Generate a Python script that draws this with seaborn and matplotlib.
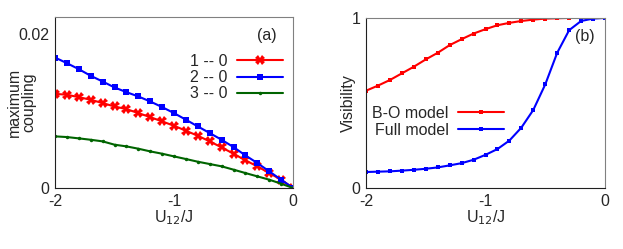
import matplotlib
matplotlib.use("Agg")
import matplotlib.pyplot as plt
import numpy as np
import pandas as pd
import seaborn as sns

# data
u12 = [-2.0, -1.9, -1.8, -1.7, -1.6, -1.5, -1.4, -1.3, -1.2, -1.1, -1.0,
       -0.9, -0.8, -0.7, -0.6, -0.5, -0.4, -0.3, -0.2, -0.1, 0.0]

coup_10 = [0.01222, 0.0121, 0.01179, 0.01145, 0.01102, 0.01058, 0.01024, 0.00972,
           0.0092, 0.00864, 0.00808, 0.00743, 0.00678, 0.00605, 0.00527, 0.00445,
           0.00359, 0.00281, 0.00194, 0.00108, 0.0]
coup_20 = [0.01693, 0.0162, 0.01542, 0.01456, 0.01382, 0.01305, 0.01244, 0.01188,
           0.01123, 0.0105, 0.00972, 0.00886, 0.00799, 0.00713, 0.00626, 0.00531,
           0.00423, 0.00324, 0.00216, 0.00108, 0.0]
coup_30 = [0.0067, 0.00661, 0.00644, 0.00626, 0.00605, 0.00562, 0.0054, 0.0051,
           0.00475, 0.00445, 0.0041, 0.00376, 0.00341, 0.00311, 0.00281, 0.00238,
           0.00194, 0.00151, 0.00108, 0.00056, 0.0]

vis_bo = [0.572, 0.602, 0.635, 0.674, 0.713, 0.756, 0.795, 0.84, 0.875, 0.908, 0.934,
          0.957, 0.971, 0.982, 0.99, 0.996, 0.998, 1.0, 1.0, 1.0, 1.0]
vis_full = [0.094, 0.096, 0.098, 0.102, 0.107, 0.113, 0.121, 0.133, 0.146, 0.166, 0.195,
            0.229, 0.279, 0.355, 0.459, 0.609, 0.795, 0.928, 0.982, 0.996, 1.0]

FS = 11.5

sns.set_style("white")
plt.rcParams['font.family'] = ['Liberation Sans', 'DejaVu Sans']
plt.rcParams['font.size'] = FS

fig = plt.figure(figsize=(6.23, 2.49), dpi=100)
ax1 = fig.add_axes([0.0883, 0.245, 0.382, 0.687])
ax2 = fig.add_axes([0.5875, 0.245, 0.3836, 0.683])

df_a = pd.DataFrame({"u": u12, "1 -- 0": coup_10, "2 -- 0": coup_20, "3 -- 0": coup_30})
styles_a = {"1 -- 0": ("#ff0000", "X", 6.5),
            "2 -- 0": ("#0000ff", "s", 4.5),
            "3 -- 0": ("#006400", "o", 2.5)}
for name, (col, mk, ms) in styles_a.items():
    sns.lineplot(data=df_a, x="u", y=name, ax=ax1, color=col, marker=mk,
                 markersize=ms, markeredgewidth=0, linewidth=1.5, label=name)

df_b = pd.DataFrame({"u": u12, "B-O model": vis_bo, "Full model": vis_full})
for name, col in [("B-O model", "#ff0000"), ("Full model", "#0000ff")]:
    sns.lineplot(data=df_b, x="u", y=name, ax=ax2, color=col, marker="s",
                 markersize=3.5, markeredgewidth=0, linewidth=1.5, label=name)

for ax in (ax1, ax2):
    ax.set_xlim(-2, 0)
    ax.set_xticks([-2, -1, 0])
    ax.set_xticklabels(["-2", "-1", "0"])
    ax.set_xlabel("U$_{12}$/J", fontsize=FS, labelpad=0)
    for s in ("top", "right"):
        ax.spines[s].set_color("#808080")
    for s in ("left", "bottom"):
        ax.spines[s].set_color("#202020")
    for s in ax.spines.values():
        s.set_linewidth(0.8)
    ax.tick_params(direction="in", length=3, width=0.5, color="#b0b0b0",
                   labelsize=FS)
    ax.tick_params(axis="x", pad=4)
    ax.tick_params(axis="y", pad=4)

ax1.set_ylim(0, 0.0222)
ax1.set_yticks([0, 0.02])
ax1.set_yticklabels(["0", "0.02"])
ax1.set_ylabel("maximum\ncoupling", fontsize=FS, linespacing=0.9)
ax1.yaxis.set_label_coords(-0.08, 0.5)
ax1.text(0.933, 0.89, "(a)", transform=ax1.transAxes, ha="right", va="center", fontsize=FS)
ax1.legend(loc="upper right", bbox_to_anchor=(1.0, 0.84), frameon=False, markerfirst=False,
           handlelength=2.9, handletextpad=0.6, labelspacing=0.08, borderaxespad=0.2,
           fontsize=FS)

ax2.set_ylim(0, 1)
ax2.set_yticks([0, 1])
ax2.set_yticklabels(["0", "1"])
ax2.set_ylabel("Visibility", fontsize=FS)
ax2.yaxis.set_label_coords(-0.042, 0.5)
ax2.text(0.958, 0.888, "(b)", transform=ax2.transAxes, ha="right", va="center", fontsize=FS)
ax2.legend(loc="upper left", bbox_to_anchor=(-0.015, 0.54), frameon=False, markerfirst=False,
           handlelength=2.9, handletextpad=0.6, labelspacing=0.12, borderaxespad=0.2,
           fontsize=FS)

fig.savefig("out.png", dpi=100)
